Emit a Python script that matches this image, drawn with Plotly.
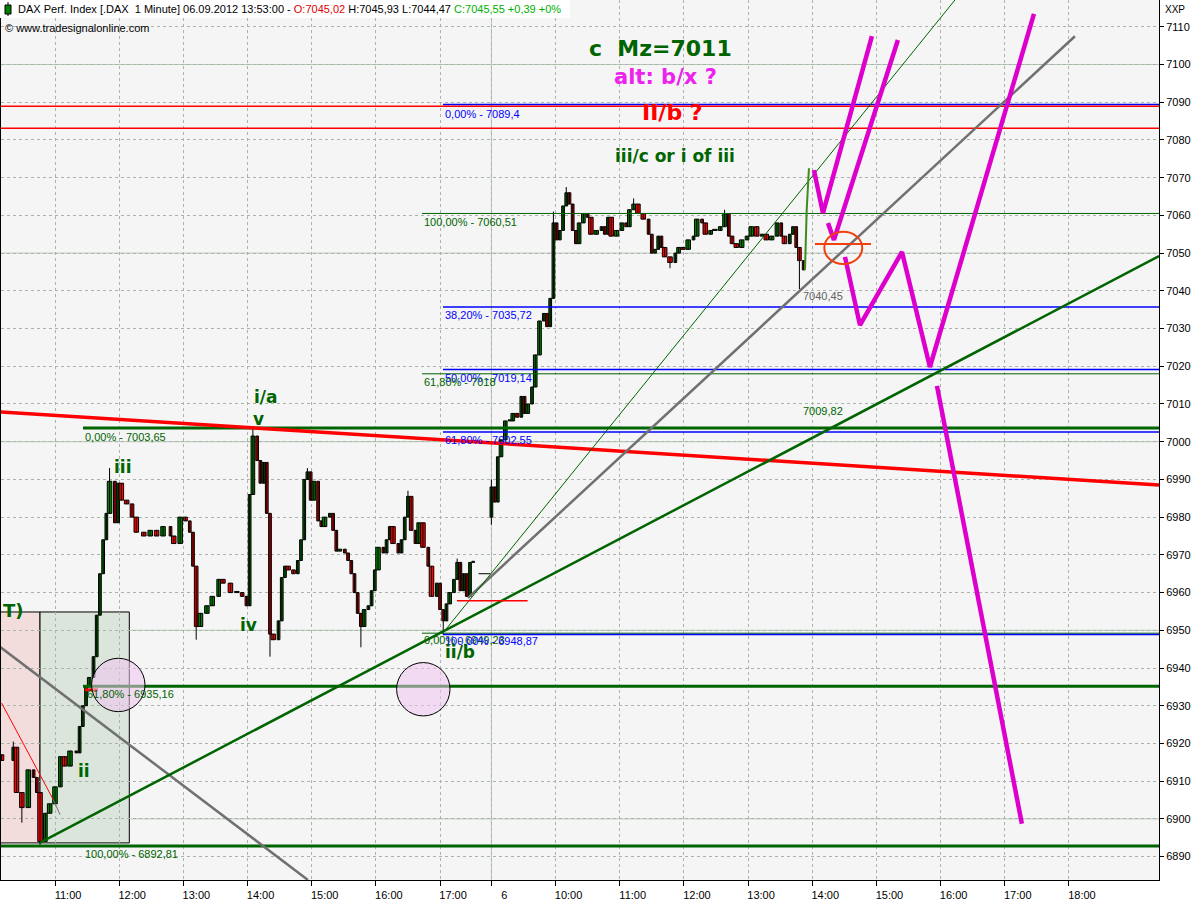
import plotly.graph_objects as go

# ---------------- data ----------------
# x = minute index: 05.09.2012 09:00 = 0, 06.09.2012 09:00 = 528
day1_minutes = [70, 81, 84, 89, 95, 100, 103, 106, 111, 115,
                120, 125, 129, 134, 140, 143, 146, 149, 152, 156,
                159, 162, 165, 168, 171, 176, 179, 182, 187, 192,
                196, 203, 209, 215, 221, 228, 231, 237, 242, 246,
                249, 252, 256, 262, 267, 273, 277, 284, 290, 295,
                299, 302, 305, 309, 312, 315, 318, 321, 324, 329,
                332, 335, 338, 343, 347, 350, 353, 356, 359, 362,
                366, 369, 372, 377, 380, 383, 386, 391, 394, 397,
                400, 403, 406, 409, 413, 416, 419, 422, 427, 430,
                433, 436, 441, 444, 447, 450, 453, 457, 460, 464,
                469, 472, 477, 480, 483, 486, 489, 493, 496, 499,
                502, 505, 508, 511]
day1_close = [6915.5, 6919, 6907, 6903, 6913, 6911, 6907, 6894, 6901.5, 6904,
              6908.5, 6916.5, 6914, 6918, 6917.5, 6924.5, 6930, 6935, 6937.5, 6943,
              6954, 6965, 6974, 6981, 6989.5, 6978.5, 6989, 6984.5, 6983.5, 6980,
              6976, 6975, 6976.5, 6975, 6977.5, 6975, 6973, 6980, 6979, 6976,
              6967, 6951, 6954.5, 6956.5, 6959, 6963.5, 6962.5, 6960, 6960, 6959,
              6956.5, 6986, 7001.5, 6995, 6989, 6994.5, 6981, 6949, 6947.5, 6952.5,
              6964, 6967, 6966, 6965, 6968.5, 6974, 6990, 6992, 6984.5, 6989.5,
              6979, 6977.5, 6980, 6981, 6976.5, 6971, 6971.5, 6970.5, 6968.5, 6965,
              6960, 6954.5, 6951, 6955.5, 6956.5, 6960.5, 6966, 6972, 6970.5, 6974,
              6977.5, 6973, 6970.5, 6974, 6980, 6985.5, 6976.5, 6973, 6978.5, 6972,
              6967, 6959, 6962.5, 6955.5, 6952.5, 6957, 6960, 6963.5, 6968, 6960.5,
              6965, 6959, 6968, 6968]
day1_first_open = 6917.0

day2_minutes = [528, 531, 534, 537, 541, 545, 548, 552, 556, 559,
                562, 566, 569, 573, 577, 580, 583, 586, 589, 592,
                595, 598, 601, 604, 607, 610, 614, 618, 621, 626,
                631, 634, 637, 640, 645, 650, 654, 657, 661, 665,
                670, 675, 678, 681, 684, 687, 690, 695, 700, 703,
                707, 712, 717, 720, 725, 728, 733, 737, 742, 746,
                750, 753, 757, 762, 767, 771, 776, 781, 785, 790,
                795, 799, 802, 807, 810, 813, 816, 820]
day2_close = [6988, 6984, 6996, 7000.5, 7005.5, 7005.5, 7007.5, 7006.5, 7012, 7007.5,
              7010, 7014.5, 7023, 7032, 7034, 7030.5, 7038, 7058, 7053.5, 7056,
              7062.5, 7066, 7063, 7056, 7052.5, 7058, 7060.5, 7059.5, 7055, 7056,
              7057, 7055, 7059.5, 7054.5, 7056, 7058, 7057, 7061.5, 7063, 7060.5,
              7059, 7055, 7050, 7051, 7054.5, 7051.5, 7049, 7047.5, 7050, 7051.5,
              7051, 7053.5, 7054.5, 7059, 7058, 7055, 7056, 7056, 7057, 7060.5,
              7054.5, 7052.5, 7051.5, 7053.5, 7054.5, 7057, 7054.5, 7055, 7053.5, 7054.5,
              7058, 7054.5, 7052.5, 7055, 7057, 7051.5, 7048, 7045.55]
day2_first_open = 6980.0

wick_high_minutes = [81, 171, 305, 356, 450, 496, 528, 586, 598, 661, 746]
wick_high_values = [6920.5, 6993.0, 7003.65, 6993.0, 6987.0, 6969.0, 6990.0, 7061.0, 7067.5, 7064.5, 7061.5]
wick_low_minutes = [89, 106, 252, 321, 406, 483, 528, 695, 816]
wick_low_values = [6899.0, 6892.81, 6947.5, 6943.0, 6945.5, 6948.87, 6978.0, 7046.0, 7040.45]

after_close_minutes = [516, 527]
after_close_value = 6965.0

tick_minutes = [120, 180, 240, 300, 360, 420, 480, 528, 588, 648, 708, 768, 828, 888, 948, 1008, 1068]
tick_labels = ["11:00", "12:00", "13:00", "14:00", "15:00", "16:00", "17:00", "6",
               "10:00", "11:00", "12:00", "13:00", "14:00", "15:00", "16:00", "17:00", "18:00"]
price_ticks = list(range(6890, 7111, 10))
pale_levels = [6900, 6950, 7000, 7050, 7100]
day_break = 528

# Fibonacci levels
fib_levels = [7089.4, 7060.51, 7035.72, 7019.14, 7018.0, 7003.65, 7002.55, 6949.23, 6948.87, 6935.16, 6892.81]
fib_texts = ["0,00% - 7089,4", "100,00% - 7060,51", "38,20% - 7035,72", "50,00% - 7019,14", "61,80% - 7018",
             "0,00% - 7003,65", "61,80% - 7002,55", "0,00% - 6949,23", "100,00% - 6948,87",
             "61,80% - 6935,16", "100,00% - 6892,81"]
red_zone = [7088.9, 7083.1]

# trendlines (minute, price)
red_trend_t, red_trend_p = [68.6, 1152.2], [7007.9, 6988.5]
green_trend_t, green_trend_p = [106.0, 1152.2], [6893.7, 7049.2]
gray_down_t, gray_down_p = [68.6, 356.5], [6945.6, 6883.8]
gray_up_t, gray_up_p = [506.1, 1073.6], [6958.6, 7107.5]
thin_green_t, thin_green_p = [482.7, 961.4], [6949.3, 7117.1]
thin_red_t, thin_red_p = [70.1, 118.4], [6930.7, 6905.1]
thin_gray_t, thin_gray_p = [118.4, 124.7], [6905.1, 6901.1]
red_mark_t, red_mark_p = [495.8, 561.9], [6957.8, 6957.8]
red_dash_t, red_dash_p = [148.0, 160.0], [6934.2, 6934.2]

# projection paths
mag1_t, mag1_p = [829.6, 838.0, 883.8], [7072.0, 7060.6, 7107.5]
mag2_t, mag2_p = [842.7, 848.3, 908.1], [7058.0, 7053.5, 7106.5]
mag3_t, mag3_p = [858.6, 872.6, 911.9, 938.0, 1035.3], [7049.0, 7030.9, 7050.3, 7019.8, 7113.4]
mag4_t, mag4_p = [944.6, 1024.0], [7014.8, 6898.7]
last_up_t, last_up_p = [821.2, 822.8, 824.9], [7045.5, 7061.4, 7072.5]

# ---------------- helpers (layout placement) ----------------
X0, X1 = 69.5, 1152.2
Y0, Y1 = 6883.8, 7117.1


def xm(px):
    return 120 + (px - 55) / 1.0696


def yp(pyy):
    return 7110 - (pyy - 26.7) / 3.7727


def paper_x(px):
    return (px - 1) / 1158.0


def paper_y(pyy):
    return 1 - pyy / 880.0


BLUE = "#0000ff"
GREEN = "#006400"
RED = "#ff0000"
MAG = "#dd00cc"
GRAY = "#707070"

# ---------------- candles ----------------
t_all, o_all, h_all, l_all, c_all, w_all = [], [], [], [], [], []
for mins, closes, first_open in ((day1_minutes, day1_close, day1_first_open),
                                 (day2_minutes, day2_close, day2_first_open)):
    assert len(mins) == len(closes)
    prev = first_open
    for i, (m, c) in enumerate(zip(mins, closes)):
        o = prev
        hi, lo = max(o, c), min(o, c)
        if m in wick_high_minutes:
            hi = max(hi, wick_high_values[wick_high_minutes.index(m)])
        if m in wick_low_minutes:
            lo = min(lo, wick_low_values[wick_low_minutes.index(m)])
        gap = (mins[i + 1] - m) if i + 1 < len(mins) else 3
        t_all.append(m); o_all.append(o); h_all.append(hi); l_all.append(lo); c_all.append(c)
        w_all.append(min(gap, 5) * 0.85)
        prev = c

fig = go.Figure()


def line_trace(t, p, color, width, dash=None):
    fig.add_trace(go.Scatter(x=t, y=p, mode="lines", line=dict(color=color, width=width, dash=dash),
                             hoverinfo="skip", showlegend=False, cliponaxis=True))


# wicks
wx, wy = [], []
for t, hi, lo in zip(t_all, h_all, l_all):
    wx += [t, t, None]
    wy += [lo, hi, None]
line_trace(wx, wy, "black", 1)
# bodies
body_base = [min(o, c) for o, c in zip(o_all, c_all)]
body_h = [max(abs(c - o), 0.3) for o, c in zip(o_all, c_all)]
body_col = ["#008000" if c >= o else "#ff0000" for o, c in zip(o_all, c_all)]
fig.add_trace(go.Bar(x=t_all, y=body_h, base=body_base, width=w_all,
                     marker=dict(color=body_col, line=dict(color="black", width=1)),
                     hoverinfo="skip", showlegend=False))
line_trace(after_close_minutes, [after_close_value] * 2, "black", 1)

# fib lines
fib_colors = [BLUE, GREEN, BLUE, BLUE, GREEN, GREEN, BLUE, GREEN, BLUE, GREEN, GREEN]
fib_start_px = [443, 422, 443, 443, 422, 83, 443, 422, 443, 83, 0]
fib_width = [1.5, 1, 1.5, 1.5, 1, 3, 1.5, 1, 1.5, 3, 3]
for lev, col, spx, w in zip(fib_levels, fib_colors, fib_start_px, fib_width):
    line_trace([xm(spx), X1 + 5], [lev, lev], col, w)
for lev in red_zone:
    line_trace([X0 - 5, X1 + 5], [lev, lev], RED, 1.5)

# trendlines
line_trace(red_trend_t, red_trend_p, RED, 3.5)
line_trace(gray_down_t, gray_down_p, GRAY, 2.5)
line_trace(gray_up_t, gray_up_p, GRAY, 2.5)
line_trace(thin_green_t, thin_green_p, GREEN, 1)
line_trace(green_trend_t, green_trend_p, GREEN, 2.5)
line_trace(thin_red_t, thin_red_p, RED, 1)
line_trace(thin_gray_t, thin_gray_p, GRAY, 1)
line_trace(red_mark_t, red_mark_p, RED, 1.5)
line_trace(red_dash_t, red_dash_p, RED, 3)

# projections
for t, p in ((mag1_t, mag1_p), (mag2_t, mag2_p), (mag3_t, mag3_p), (mag4_t, mag4_p)):
    line_trace(t, p, MAG, 4.5)
line_trace(last_up_t, last_up_p, "#3c8c1e", 2)

# ---------------- shapes ----------------
shapes = []
for lev in pale_levels:
    shapes.append(dict(type="line", xref="x", yref="y", x0=X0, x1=X1, y0=lev, y1=lev,
                       line=dict(color="#b4c8b4", width=1), layer="below"))
shapes.append(dict(type="line", xref="x", yref="y", x0=day_break, x1=day_break, y0=Y0, y1=Y1,
                   line=dict(color="#b4c8b4", width=1), layer="below"))
# boxes
shapes.append(dict(type="rect", xref="x", yref="y", x0=xm(0), x1=xm(40), y0=yp(843), y1=yp(612),
                   fillcolor="#f3dcdc", line=dict(color="black", width=1), layer="below"))
shapes.append(dict(type="rect", xref="x", yref="y", x0=xm(40), x1=xm(129.3), y0=yp(843), y1=yp(612),
                   fillcolor="#dbe5db", line=dict(color="black", width=1), layer="below"))
# circles
for cx, cy in ((118.3, 685), (423.3, 689.3)):
    shapes.append(dict(type="circle", xref="x", yref="y", x0=xm(cx - 26.7), x1=xm(cx + 26.7),
                       y0=yp(cy + 26.7), y1=yp(cy - 26.7),
                       fillcolor="rgba(238,196,238,0.55)", line=dict(color="black", width=1), layer="above"))
# orange ellipse + line
shapes.append(dict(type="circle", xref="x", yref="y", x0=xm(824.3), x1=xm(862.3), y0=yp(264), y1=yp(231.7),
                   line=dict(color="#f04010", width=2), layer="above"))
shapes.append(dict(type="line", xref="x", yref="y", x0=xm(815), x1=xm(871), y0=yp(244), y1=yp(244),
                   line=dict(color="#f04010", width=2), layer="above"))
# header box and icon
shapes.append(dict(type="rect", xref="paper", yref="paper", x0=paper_x(0), x1=paper_x(570),
                   y0=paper_y(18), y1=paper_y(0), fillcolor="white", line=dict(width=0), layer="above"))
shapes.append(dict(type="line", xref="paper", yref="paper", x0=paper_x(8), x1=paper_x(8),
                   y0=paper_y(16), y1=paper_y(2), line=dict(color="black", width=1), layer="above"))
shapes.append(dict(type="rect", xref="paper", yref="paper", x0=paper_x(5), x1=paper_x(11),
                   y0=paper_y(14), y1=paper_y(5), fillcolor="#008000", line=dict(color="black", width=1), layer="above"))

# ---------------- annotations ----------------
ann = []


def add_text(text, px, pyy, color, size, xanchor="left", bold=False, family="Liberation Sans, Arial, sans-serif"):
    ann.append(dict(x=xm(px), y=yp(pyy), xref="x", yref="y", text=("<b>%s</b>" % text) if bold else text,
                    showarrow=False, xanchor=xanchor, yanchor="middle",
                    font=dict(color=color, size=size, family=family)))


fib_label_px = [(443, 114), (422, 222), (443, 315), (443, 378), (422, 382), (83, 437), (443, 440),
                (422, 640), (443, 641), (85, 694), (83, 854)]
for txt, col, (lx, ly) in zip(fib_texts, fib_colors, fib_label_px):
    add_text(txt, lx, ly, col, 11)
add_text("7040,45", 801, 296, "#606060", 11)
add_text("7009,82", 801, 411, GREEN, 11)

BOLD = "DejaVu Sans, Verdana, sans-serif"
for txt, lx, ly in (("iii", 122, 467), ("v", 258, 419), ("i/a", 266, 397), ("iv", 248, 625),
                    ("ii", 84, 771), ("ii/b", 460, 652), ("iii/c or i of iii", 675, 156)):
    add_text(txt, lx, ly, GREEN, 17, xanchor="center", bold=True, family=BOLD)
add_text("T)", 1, 611, GREEN, 18, bold=True, family=BOLD)
add_text("c\u00a0\u00a0Mz=7011", 587, 48, GREEN, 22, bold=True, family=BOLD)
add_text("alt: b/x ?", 666, 77, "#ee22ee", 21, xanchor="center", bold=True, family=BOLD)
add_text("II/b ?", 673, 112, RED, 22, xanchor="center", bold=True, family=BOLD)

header = ("DAX Perf. Index [.DAX\u00a0\u00a01 Minute] 06.09.2012 13:53:00 - "
          "<span style='color:#e00000'>O:7045,02</span> H:7045,93 L:7044,47 "
          "<span style='color:#00b000'>C:7045,55 +0,39 +0%</span>")
ann.append(dict(x=paper_x(16), y=paper_y(9.5), xref="paper", yref="paper", text=header, showarrow=False,
                xanchor="left", yanchor="middle", font=dict(size=11, color="black")))
ann.append(dict(x=paper_x(3), y=paper_y(28), xref="paper", yref="paper", text="\u00a9 www.tradesignalonline.com",
                showarrow=False, xanchor="left", yanchor="middle", font=dict(size=11, color="black")))
ann.append(dict(x=paper_x(1163), y=paper_y(9), xref="paper", yref="paper", text="XXP",
                showarrow=False, xanchor="left", yanchor="middle", font=dict(size=10, color="black")))

fig.update_layout(
    width=1200, height=900,
    margin=dict(l=1, r=41, t=0, b=20),
    paper_bgcolor="white", plot_bgcolor="#f5f5f5",
    showlegend=False, barmode="overlay",
    font=dict(family="Liberation Sans, Arial, sans-serif", size=11, color="black"),
    shapes=shapes, annotations=ann,
    xaxis=dict(range=[X0, X1], tickmode="array", tickvals=tick_minutes, ticktext=tick_labels,
               ticks="outside", ticklen=5, tickcolor="black", showgrid=True, gridcolor="#aab4aa",
               griddash="dot", gridwidth=1, showline=True, linecolor="black", linewidth=1,
               zeroline=False, ticklabelshift=13),
    yaxis=dict(range=[Y0, Y1], side="right", tickmode="array", tickvals=price_ticks,
               ticks="outside", ticklen=4, tickcolor="black", showgrid=True, gridcolor="#aab4aa",
               griddash="dot", gridwidth=1, showline=True, mirror=True, linecolor="black", linewidth=1,
               zeroline=False),
)

fig.write_html("out.html", config={"displayModeBar": False},
               post_script="document.body.style.margin='0';document.body.style.overflow='hidden';")
